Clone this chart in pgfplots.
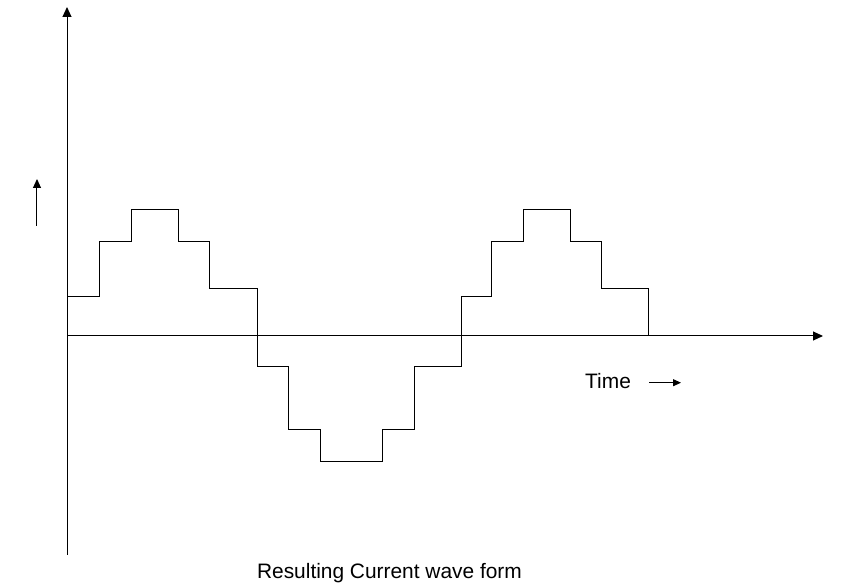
\documentclass[border=0pt]{standalone}
\usepackage{fontspec}
\setmainfont{Liberation Sans}
\usepackage{pgfplots}
\pgfplotsset{compat=1.18}
\usetikzlibrary{arrows.meta}
\begin{document}
\begin{tikzpicture}
\useasboundingbox (0,0) rectangle (852pt,584pt);
\begin{axis}[
  anchor=south west, at={(67pt,29pt)},
  scale only axis,
  x=1pt, y=1pt,
  xmin=0, xmax=756,
  ymin=-219, ymax=329,
  axis lines=middle,
  axis line style={line width=1pt, -{Triangle[length=10pt,width=9pt]}},
  xtick=\empty, ytick=\empty,
  clip=false,
]
\addplot[const plot, black, line width=1pt] coordinates {
  (0,39) (32,94) (64,126) (111,94) (142,47) (190,-31) (221.5,-94) (253,-126)
  (315,-94) (347,-31) (394.5,39) (424,94) (456,126) (503,94) (534.5,47) (581.5,0)
};
\draw[line width=1pt, -{Triangle[length=9pt,width=8pt]}] (axis cs:-30,110) -- (axis cs:-30,157);
\draw[line width=1pt, -{Triangle[length=8pt,width=7pt]}] (axis cs:582,-46.7) -- (axis cs:614,-46.7);
\node[anchor=base west, inner sep=0pt, font=\fontsize{20.9}{24}\selectfont] at (axis cs:518,-52.3) {Time};
\node[anchor=base, inner sep=0pt, font=\fontsize{20.9}{24}\selectfont] at (axis cs:322.5,-242.5) {Resulting Current wave form};
\end{axis}
\end{tikzpicture}
\end{document}
